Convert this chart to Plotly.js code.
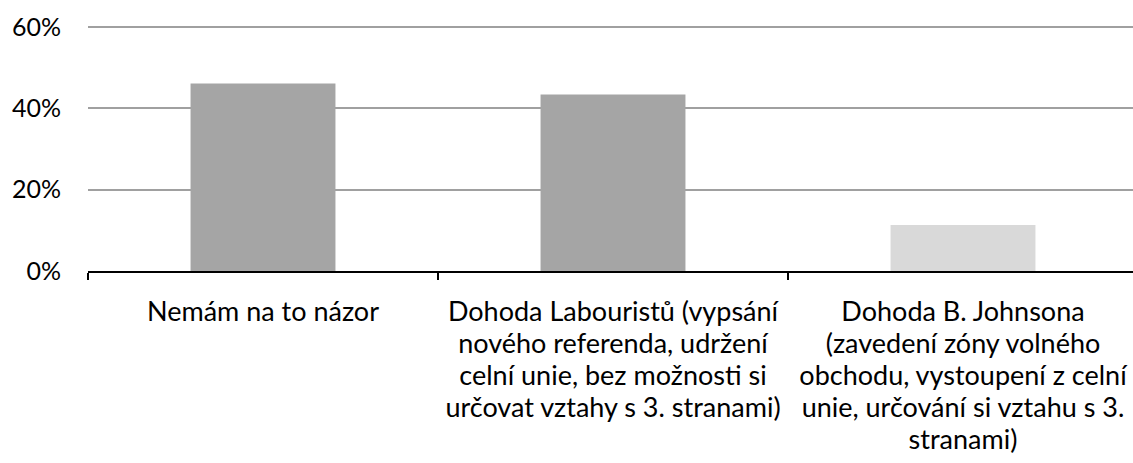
<!DOCTYPE html>
<html>
<head>
<meta charset="utf-8">
<script src="https://cdn.plot.ly/plotly-3.0.1.min.js"></script>
<style>
html, body { margin: 0; padding: 0; overflow: hidden; background: #fff; }
#chart { width: 1143px; height: 463px; }
</style>
</head>
<body>
<div id="chart"></div>
<script>
const categories = [
  "Nemám na to názor",
  "Dohoda Labouristů (vypsání<br>nového referenda, udržení<br>celní unie, bez možnosti si<br>určovat vztahy s 3. stranami)",
  "Dohoda B. Johnsona<br>(zavedení zóny volného<br>obchodu, vystoupení z celní<br>unie, určování si vztahu s 3.<br>stranami)"
];
const values = [0.461, 0.434, 0.113];
const barColors = ["#a5a5a5", "#a5a5a5", "#d9d9d9"];
const yTickVals = [0, 0.2, 0.4, 0.6];
const yTickText = ["0%", "20%", "40%", "60%"];

// wrap each label line in a span to enlarge glyphs while keeping Excel-like line spacing
const tickText = categories.map(c => c.split("<br>").map(l => '<span style="font-size:27px">' + l + '</span>').join("<br>"));

const trace = {
  type: "bar",
  x: categories,
  y: values,
  marker: { color: barColors, line: { width: 0 } },
  hoverinfo: "none"
};

const layout = {
  width: 1143,
  height: 463,
  margin: { l: 88, r: 5, t: 26, b: 192 },
  paper_bgcolor: "#ffffff",
  plot_bgcolor: "#ffffff",
  showlegend: false,
  bargap: 0.586,
  font: { family: "Lato, 'Liberation Sans', sans-serif", size: 24, color: "#000000" },
  xaxis: {
    type: "category",
    tickvals: categories,
    ticktext: tickText,
    showgrid: false,
    showline: true,
    linecolor: "#000000",
    linewidth: 1.5,
    ticks: "outside",
    tickson: "boundaries",
    ticklen: 7,
    tickwidth: 1.5,
    tickcolor: "#000000",
    tickfont: { family: "Lato, 'Liberation Sans', sans-serif", size: 24.6, color: "#000000" },
    tickangle: 0,
    ticklabelstandoff: 19,
    zeroline: false,
    fixedrange: true
  },
  yaxis: {
    range: [0, 0.6025],
    tickvals: yTickVals,
    ticktext: yTickText,
    showgrid: true,
    gridcolor: "#a0a0a0",
    gridwidth: 1.8,
    showline: false,
    zeroline: false,
    ticks: "",
    ticklabelstandoff: 26,
    tickfont: { family: "Lato, 'Liberation Sans', sans-serif", size: 25, color: "#000000" },
    fixedrange: true
  }
};

Plotly.newPlot("chart", [trace], layout, { displayModeBar: false, staticPlot: true });
</script>
</body>
</html>
